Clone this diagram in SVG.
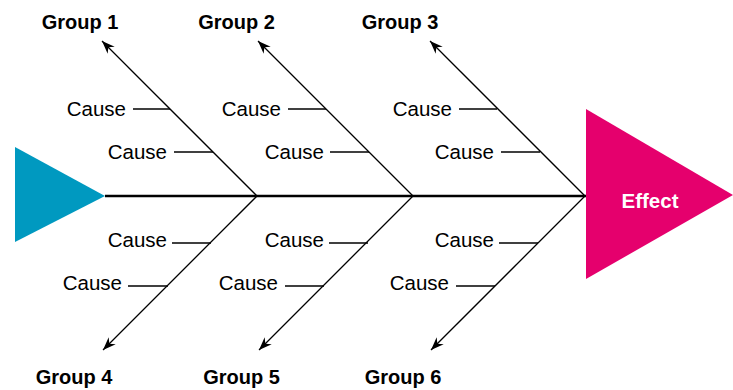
<svg xmlns="http://www.w3.org/2000/svg" width="733" height="390" viewBox="0 0 733 390">
<defs>
<style>
.bone{stroke:#000;stroke-width:1.3;fill:none}
.tick{stroke:#000;stroke-width:1.3}
.cause{font-family:"Liberation Sans",Arial,sans-serif;font-size:20.5px;fill:#000;text-anchor:end}
.grp{font-family:"Liberation Sans",Arial,sans-serif;font-size:20px;font-weight:bold;fill:#000;text-anchor:middle}
.eff{font-family:"Liberation Sans",Arial,sans-serif;font-size:20.5px;font-weight:bold;fill:#fff;text-anchor:middle}
</style>
<marker id="arr" viewBox="-13 -6 14 12" refX="0" refY="0" markerWidth="14" markerHeight="12" markerUnits="userSpaceOnUse" orient="auto">
<path d="M0,0 L-13,-5 L-9,0 L-13,5 Z" fill="#000"/>
</marker>
</defs>
<rect width="733" height="390" fill="#fff"/>
<g id="head-tail">
<polygon points="15,147 105,196 15,242" fill="#0099C0"/>
</g>
<g id="connectors">
<line x1="105" y1="196" x2="586" y2="196" stroke="#000" stroke-width="2.5"/>
<line class="bone" x1="257" y1="196" x2="102" y2="41" marker-end="url(#arr)"/>
<line class="bone" x1="413" y1="196" x2="258" y2="41" marker-end="url(#arr)"/>
<line class="bone" x1="585" y1="196" x2="430" y2="41" marker-end="url(#arr)"/>
<line class="bone" x1="257" y1="196" x2="103" y2="350" marker-end="url(#arr)"/>
<line class="bone" x1="413" y1="196" x2="259" y2="350" marker-end="url(#arr)"/>
<line class="bone" x1="585" y1="196" x2="431" y2="350" marker-end="url(#arr)"/>
<line class="tick" x1="133" y1="109" x2="170" y2="109"/>
<line class="tick" x1="174" y1="152" x2="213" y2="152"/>
<line class="tick" x1="288" y1="109" x2="326" y2="109"/>
<line class="tick" x1="330" y1="152" x2="369" y2="152"/>
<line class="tick" x1="459" y1="109" x2="497" y2="109"/>
<line class="tick" x1="501" y1="152" x2="540" y2="152"/>
<line class="tick" x1="172" y1="243" x2="211" y2="243"/>
<line class="tick" x1="128" y1="286" x2="168" y2="286"/>
<line class="tick" x1="329" y1="243" x2="368" y2="243"/>
<line class="tick" x1="285" y1="286" x2="324" y2="286"/>
<line class="tick" x1="499" y1="243" x2="538" y2="243"/>
<line class="tick" x1="456" y1="286" x2="495" y2="286"/>
</g>
<g id="effect">
<polygon points="586,109 733,195 586,279" fill="#E5006D"/>
<text class="eff" x="650" y="208">Effect</text>
</g>
<g id="group1">
<text class="grp" x="80" y="29">Group 1</text>
<text class="cause" x="126" y="116">Cause</text>
<text class="cause" x="167" y="159">Cause</text>
</g>
<g id="group2">
<text class="grp" x="236.5" y="29">Group 2</text>
<text class="cause" x="281" y="116">Cause</text>
<text class="cause" x="324" y="159">Cause</text>
</g>
<g id="group3">
<text class="grp" x="400" y="29">Group 3</text>
<text class="cause" x="452" y="116">Cause</text>
<text class="cause" x="494" y="159">Cause</text>
</g>
<g id="group4">
<text class="grp" x="74" y="384">Group 4</text>
<text class="cause" x="167" y="247">Cause</text>
<text class="cause" x="122" y="290">Cause</text>
</g>
<g id="group5">
<text class="grp" x="241.5" y="384">Group 5</text>
<text class="cause" x="324" y="247">Cause</text>
<text class="cause" x="278" y="290">Cause</text>
</g>
<g id="group6">
<text class="grp" x="403" y="384">Group 6</text>
<text class="cause" x="494" y="247">Cause</text>
<text class="cause" x="449" y="290">Cause</text>
</g>
</svg>
